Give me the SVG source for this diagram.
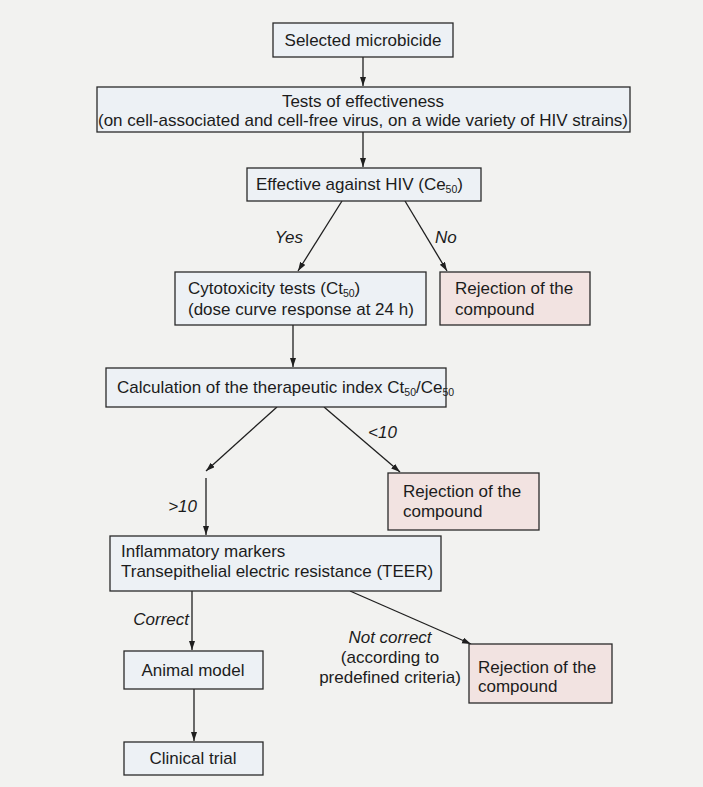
<svg xmlns="http://www.w3.org/2000/svg" width="703" height="787" viewBox="0 0 703 787">
<style>
text{font-family:"Liberation Sans",Arial,sans-serif;font-size:17px;fill:#1c1c1c}
.it{font-style:italic}
.sub{font-size:10.5px}
.b{fill:#edf1f5;stroke:#2a2a2a;stroke-width:1.3}
.r{fill:#f2e3e1;stroke:#2a2a2a;stroke-width:1.3}
.c line{stroke:#1f1f1f;stroke-width:1.3;fill:none}
.m{text-anchor:middle}
</style>
<defs>
<marker id="ah" markerUnits="userSpaceOnUse" markerWidth="10" markerHeight="8" refX="9" refY="3" orient="auto">
<path d="M0,0 L9,3 L0,6 z" fill="#1f1f1f"/>
</marker>
</defs>
<rect x="0" y="0" width="703" height="787" fill="#f2f2f0"/>
<g class="c">
<line x1="363" y1="57" x2="363" y2="86" marker-end="url(#ah)"/>
<line x1="363" y1="132" x2="363" y2="167" marker-end="url(#ah)"/>
<line x1="342" y1="201" x2="298" y2="271" marker-end="url(#ah)"/>
<line x1="405" y1="201" x2="447" y2="271" marker-end="url(#ah)"/>
<line x1="293" y1="325" x2="293" y2="367" marker-end="url(#ah)"/>
<line x1="277" y1="407" x2="206" y2="471" marker-end="url(#ah)"/>
<line x1="324" y1="407" x2="400" y2="472" marker-end="url(#ah)"/>
<line x1="206" y1="478" x2="206" y2="535" marker-end="url(#ah)"/>
<line x1="192" y1="591" x2="192" y2="650" marker-end="url(#ah)"/>
<line x1="350" y1="591" x2="471" y2="644" marker-end="url(#ah)"/>
<line x1="194" y1="689" x2="194" y2="741" marker-end="url(#ah)"/>
</g>
<g id="labels">
<text class="it" x="303" y="243" text-anchor="end">Yes</text>
<text class="it" x="435" y="243">No</text>
<text class="it" x="368" y="438">&lt;10</text>
<text class="it" x="197" y="512" text-anchor="end">&gt;10</text>
<text class="it" x="189" y="625" text-anchor="end">Correct</text>
<text class="it m" x="390" y="643">Not correct</text>
<text class="m" x="390" y="663">(according to</text>
<text class="m" x="390" y="683">predefined criteria)</text>
</g>
<g id="n1">
<rect class="b" x="273" y="23" width="180" height="34"/>
<text class="m" x="363" y="46">Selected microbicide</text>
</g>
<g id="n2">
<rect class="b" x="97" y="87" width="533" height="45"/>
<text class="m" x="363" y="107">Tests of effectiveness</text>
<text class="m" x="363" y="126">(on cell-associated and cell-free virus, on a wide variety of HIV strains)</text>
</g>
<g id="n3">
<rect class="b" x="247" y="168" width="234" height="33"/>
<text x="256" y="190">Effective against HIV (Ce<tspan class="sub" dy="3">50</tspan><tspan dy="-3">)</tspan></text>
</g>
<g id="n4">
<rect class="b" x="175" y="272" width="251" height="53"/>
<text x="188" y="294">Cytotoxicity tests (Ct<tspan class="sub" dy="3">50</tspan><tspan dy="-3">)</tspan></text>
<text x="188" y="315">(dose curve response at 24 h)</text>
</g>
<g id="n5">
<rect class="r" x="440" y="272" width="150" height="53"/>
<text x="455" y="294">Rejection of the</text>
<text x="455" y="315">compound</text>
</g>
<g id="n6">
<rect class="b" x="106" y="368" width="340" height="39"/>
<text x="117" y="393">Calculation of the therapeutic index Ct<tspan class="sub" dy="3">50</tspan><tspan dy="-3">/Ce</tspan><tspan class="sub" dy="3">50</tspan></text>
</g>
<g id="n7">
<rect class="r" x="388" y="473" width="151" height="57"/>
<text x="403" y="497">Rejection of the</text>
<text x="403" y="517">compound</text>
</g>
<g id="n8">
<rect class="b" x="110" y="536" width="331" height="55"/>
<text x="121" y="557">Inflammatory markers</text>
<text x="121" y="577">Transepithelial electric resistance (TEER)</text>
</g>
<g id="n9">
<rect class="r" x="469" y="644" width="143" height="59"/>
<text x="478" y="673">Rejection of the</text>
<text x="478" y="692">compound</text>
</g>
<g id="n10">
<rect class="b" x="124" y="651" width="139" height="38"/>
<text class="m" x="193" y="676">Animal model</text>
</g>
<g id="n11">
<rect class="b" x="124" y="742" width="139" height="33"/>
<text class="m" x="193" y="764">Clinical trial</text>
</g>
</svg>
